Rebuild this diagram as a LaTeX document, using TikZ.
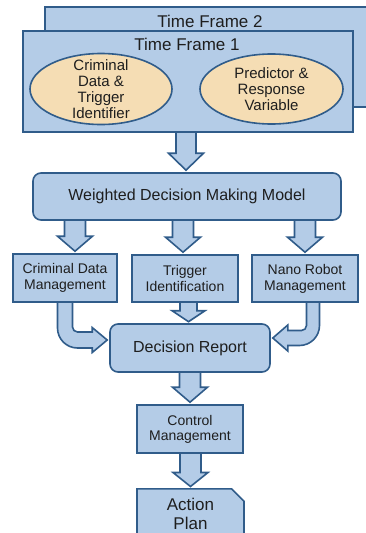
\documentclass[tikz,border=0pt]{standalone}
\usepackage{fontspec}
\setmainfont{Liberation Sans}
\usetikzlibrary{calc,shapes.geometric,shapes.misc,backgrounds}
\definecolor{boxfill}{RGB}{180,204,231}
\definecolor{boxline}{RGB}{48,92,138}
\definecolor{ovalfill}{RGB}{245,221,180}
\definecolor{txt}{RGB}{30,30,30}
% straight block arrow: from, tip, shaft half width, head half width, head length
\newcommand{\blockdown}[5]{%
  \draw[blockarrow] let \p1=(#1), \p2=(#2) in
    (\x2-#3pt,\y1) -- (\x2-#3pt,\y2+#5pt) -- (\x2-#4pt,\y2+#5pt) -- (\x2,\y2)
    -- (\x2+#4pt,\y2+#5pt) -- (\x2+#3pt,\y2+#5pt) -- (\x2+#3pt,\y1);}
\begin{document}
\begin{tikzpicture}[x=1pt,y=1pt,
    frame/.style={draw=boxline,fill=boxfill,line width=1.6pt,inner sep=0pt},
    title/.style={text=txt,font=\fontsize{17}{20}\selectfont},
    oval/.style={ellipse,draw=boxline,fill=ovalfill,line width=1.6pt,inner sep=0pt,align=center,text=txt,font=\fontsize{15}{16}\selectfont},
    box/.style={draw=boxline,fill=boxfill,line width=1.6pt,inner sep=0pt,align=center,text=txt},
    roundbox/.style={box,rounded corners=8pt},
    blockarrow/.style={draw=boxline,fill=boxfill,line width=1.6pt,line join=miter}]
\useasboundingbox (0,0) rectangle (366,-533);

% time frames
\node[frame,minimum width=322pt,minimum height=100pt,anchor=north west] (tf2) at (44,-6) {};
\node[title] (tf2title) at (210,-21) {Time Frame 2};
\node[frame,minimum width=330pt,minimum height=101pt,anchor=north west] (tf1) at (22,-30) {};
\node[title] (tf1title) at (187,-44) {Time Frame 1};
\node[oval,minimum width=142pt,minimum height=71pt,inner ysep=-9pt] (crim) at (101,-89) {Criminal\\Data \&\\Trigger\\Identifier};
\node[oval,minimum width=143pt,minimum height=70pt] (pred) at (271.5,-89) {Predictor \&\\Response\\Variable};

% model and management blocks
\node[roundbox,minimum width=308pt,minimum height=47pt,font=\fontsize{16}{19}\selectfont] (wdmm) at (187,-196.5) {Weighted Decision Making Model};
\node[box,minimum width=104pt,minimum height=48pt,font=\fontsize{14}{16}\selectfont] (cdm) at (65,-278) {Criminal Data\\Management};
\node[box,minimum width=106pt,minimum height=47pt,font=\fontsize{14}{16}\selectfont] (trig) at (185,-278.5) {Trigger\\Identification};
\node[box,minimum width=106pt,minimum height=47pt,font=\fontsize{14}{16}\selectfont] (nano) at (305,-278.5) {Nano Robot\\Management};
\node[roundbox,minimum width=160pt,minimum height=48pt,font=\fontsize{16}{19}\selectfont] (dr) at (190,-348) {Decision Report};
\node[box,minimum width=106pt,minimum height=48pt,font=\fontsize{14}{15}\selectfont] (ctrl) at (190,-429) {Control\\Management};
\node[box,chamfered rectangle,chamfered rectangle corners=north east,chamfered rectangle xsep=6.5pt,chamfered rectangle ysep=6pt,
      minimum width=107pt,minimum height=50pt,font=\fontsize{17}{19}\selectfont,anchor=north] (act) at (190.5,-488) {Action\\Plan};

\begin{scope}[on background layer]
\blockdown{tf1.south}{$(wdmm.north)+(-1,2)$}{10}{17.5}{17}
\blockdown{wdmm.south}{$(cdm.north)+(10,2)$}{10.5}{17.5}{15}
\blockdown{wdmm.south}{$(trig.north)+(-2,2)$}{10.5}{17.5}{15}
\blockdown{wdmm.south}{$(nano.north)+(0,2)$}{10.5}{17.5}{15}
\blockdown{trig.south}{$(dr.north)+(-1.5,1.5)$}{8.5}{16.5}{11}
\blockdown{dr.south}{$(ctrl.north)+(0,2)$}{10.5}{17.5}{15}
\blockdown{ctrl.south}{$(act.north)+(0,1.5)$}{10.5}{17.5}{14}
% bent arrows into the report
\draw[blockarrow] let \p1=(cdm.south), \p2=($(dr.west)+(-2,8)$) in
  (\x1-7.5pt,\y1) -- (\x1-7.5pt,\y2-8pt+20pt) arc[start angle=180,end angle=270,radius=20pt]
  -- (\x2-15pt,\y2-8pt) -- (\x2-15pt,\y2-12.5pt) -- (\x2,\y2) -- (\x2-15pt,\y2+12.5pt) -- (\x2-15pt,\y2+8pt)
  -- (\x1+7.5pt+5pt,\y2+8pt) arc[start angle=270,end angle=180,radius=5pt] -- (\x1+7.5pt,\y1);
\draw[blockarrow] let \p1=($(nano.south)+(8,0)$), \p2=($(dr.east)+(2,10)$) in
  (\x1+6.5pt,\y1) -- (\x1+6.5pt,\y2-7.5pt+20pt) arc[start angle=0,end angle=-90,radius=20pt]
  -- (\x2+15pt,\y2-7.5pt) -- (\x2+15pt,\y2-13pt) -- (\x2,\y2) -- (\x2+15pt,\y2+13pt) -- (\x2+15pt,\y2+7.5pt)
  -- (\x1-6.5pt-5pt,\y2+7.5pt) arc[start angle=-90,end angle=0,radius=5pt] -- (\x1-6.5pt,\y1);
\end{scope}
\end{tikzpicture}
\end{document}
